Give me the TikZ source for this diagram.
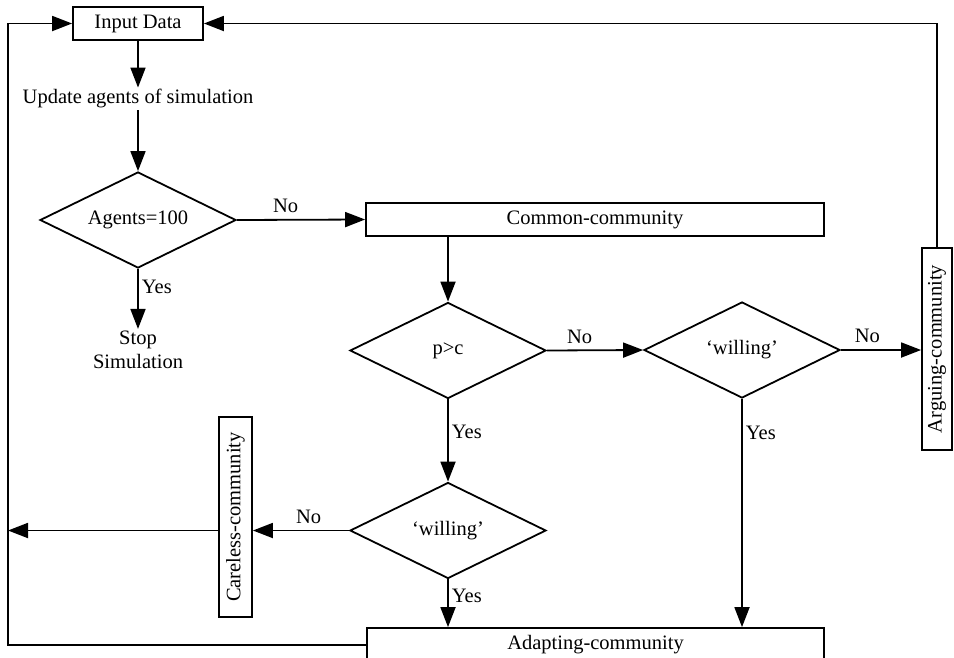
\documentclass[tikz,border=0pt]{standalone}
\usepackage{fontspec}
\setmainfont{Liberation Serif}
\usetikzlibrary{shapes.geometric,arrows.meta}
\begin{document}
\begin{tikzpicture}[x=1pt,y=-1pt,
  every node/.style={font=\fontsize{20.5}{24}\selectfont},
  box/.style={draw,line width=1.8pt,inner sep=0pt},
  dia/.style={draw,diamond,aspect=2,line width=1.8pt,inner sep=0pt,minimum width=196pt,minimum height=96pt},
  arr/.style={line width=1.8pt,-{Triangle[length=20pt,width=15pt]}},
  lab/.style={inner sep=3pt},
  labup/.style={inner sep=6pt}]
\useasboundingbox (0,0) rectangle (954,657);
\begin{scope}
\clip (0,0) rectangle (954,657);
\node[box,minimum width=130pt,minimum height=33pt] (inp) at (138,23.5) {Input Data};
\node[text height=14pt,text depth=4.5pt,inner sep=2pt] (upd) at (138,99) {Update agents of simulation};
\node[dia] (ag) at (138,220) {Agents=100};
\node[align=center,inner sep=2pt] (stop) at (138,350) {Stop\\Simulation};
\node[box,minimum width=458pt,minimum height=33pt] (com) at (595,219.5) {Common-community};
\node[dia] (pc) at (448,350.5) {p>c};
\node[dia] (w2) at (742,350) {‘willing’};
\node[box,rotate=90,minimum width=202pt,minimum height=30pt] (arg) at (937,349) {Arguing-community};
\node[dia] (w1) at (448,530.5) {‘willing’};
\node[box,rotate=90,minimum width=200pt,minimum height=33pt] (car) at (235.5,517) {Careless-community};
\node[box,minimum width=457pt,minimum height=34pt] (ada) at (595.5,645) {Adapting-community};
\coordinate (lt) at (8,23.5);
\coordinate (lb) at (8,645);
\coordinate (lm) at (8,530.5);

\draw[arr] (inp.south) -- (upd.north);
\draw[arr] (upd.south) -- (ag.north);
\draw[arr] (ag.east) -- node[labup,above,pos=0.38] (l1) {No} (com.west);
\draw[arr] (ag.south) -- node[lab,right,pos=0.3] (l2) {Yes} (stop.north);
\draw[arr] (com.south -| pc.north) -- (pc.north);
\draw[arr] (pc.east) -- node[labup,above,pos=0.34] (l3) {No} (w2.west);
\draw[arr] (w2.east) -- node[labup,above,pos=0.33] (l4) {No} (w2.east -| arg.north);
\draw[arr] (arg.east) |- (inp.east);
\draw[arr] (pc.south) -- node[lab,right,pos=0.4] (l5) {Yes} (w1.north);
\draw[arr] (w2.south) -- node[lab,right,pos=0.15] (l6) {Yes} (w2.south |- ada.north);
\draw[arr] (w1.south) -- node[lab,right,pos=0.35] (l7) {Yes} (w1.south |- ada.north);
\draw[arr] (w1.west) -- node[labup,above,pos=0.42] (l8) {No} (w1.west -| car.south);
\draw[arr] (car.north |- w1.west) -- (lm);
\draw[arr] (ada.west) -- (lb) -- (lt) -- (inp.west);
\end{scope}
\end{tikzpicture}
\end{document}
